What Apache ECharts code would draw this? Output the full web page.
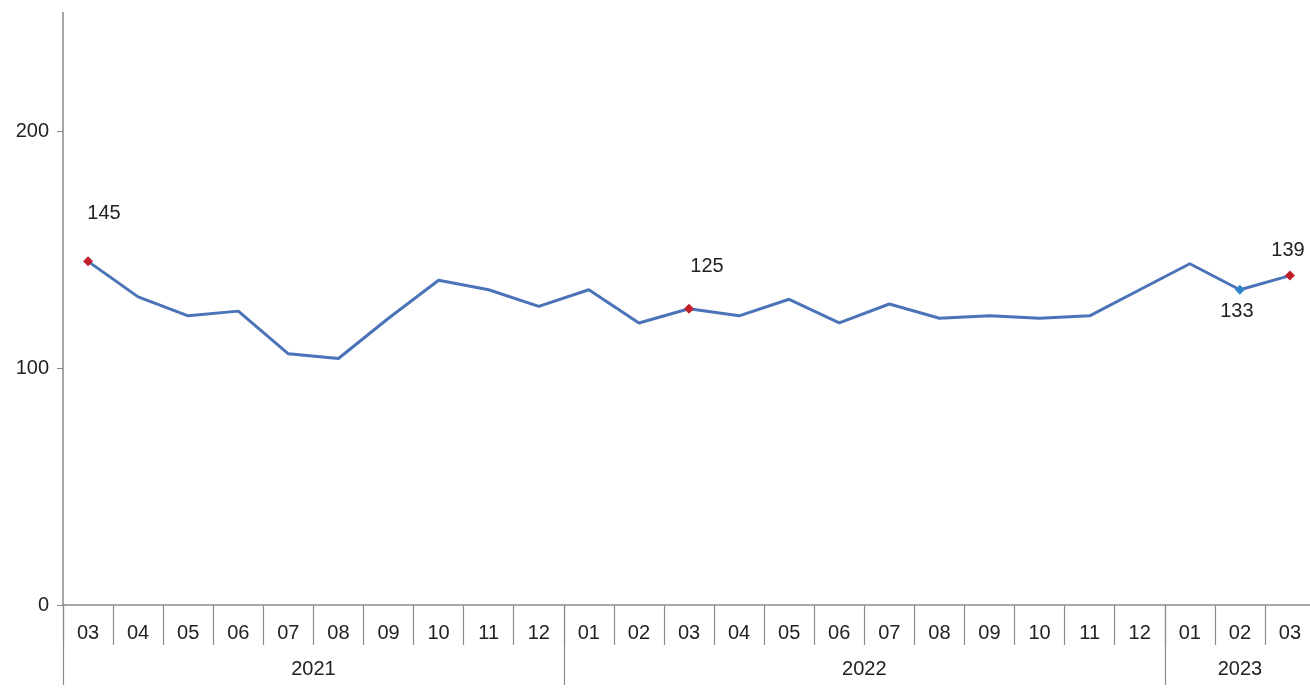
<!DOCTYPE html>
<html>
<head>
<meta charset="utf-8">
<script src="https://cdn.jsdelivr.net/npm/echarts@6/dist/echarts.min.js"></script>
<style>
html,body{margin:0;padding:0;background:#fff;}
#chart{width:1310px;height:697px;}
</style>
</head>
<body>
<div id="chart"></div>
<script>
// ---- data ----
const months = ['03','04','05','06','07','08','09','10','11','12',
                '01','02','03','04','05','06','07','08','09','10','11','12',
                '01','02','03'];
const years = ['2021','2022','2023'];
const yearStart = [0, 10, 22];   // category index where each year begins
const yearLen = [10, 12, 3];     // number of months per year
const values = [145,130,122,124,106,104,121,137,133,126,
                133,119,125,122,129,119,127,121,122,121,122,133,
                144,133,139];
const redPoints = [0, 12, 24];   // labelled red markers
const bluePoints = [23];         // labelled blue marker
const yTicks = [0, 100, 200];

// ---- styles (not data) ----
const FONT = 'Liberation Sans, Arial, sans-serif';
const FS = 20;
const LINE_COLOR = '#4a73b8';
const RED = '#c0202a';
const BLUE = '#2e86c8';
const TXT = '#222';
const labelOffsets = {0: [16, -48], 12: [18, -42], 24: [-2, -25], 23: [-3, 22]};

const seriesData = values.map((v, i) => {
  const isRed = redPoints.includes(i);
  const isBlue = bluePoints.includes(i);
  if (!isRed && !isBlue) return {value: v, symbol: 'none'};
  return {
    value: v,
    symbol: 'diamond',
    symbolSize: 10,
    itemStyle: {color: isRed ? RED : BLUE},
    label: {
      show: true,
      position: 'inside',
      offset: labelOffsets[i],
      formatter: String(v),
      color: TXT,
      fontSize: FS,
      fontFamily: FONT
    }
  };
});

const yearBounds = yearStart.concat([months.length]);
const yearCenters = yearStart.map((s, k) => s + yearLen[k] / 2);

const chart = echarts.init(document.getElementById('chart'));
chart.setOption({
  animation: false,
  backgroundColor: '#fff',
  grid: {left: 63, right: -5, top: 12.5, bottom: 92, containLabel: false, outerBoundsMode: 'none'},
  xAxis: [
    {
      type: 'category',
      data: months,
      boundaryGap: true,
      position: 'bottom',
      axisLine: {show: true, lineStyle: {color: '#8a8a8a', width: 1.5}},
      axisTick: {show: true, length: 40, lineStyle: {color: '#8a8a8a', width: 1.2}},
      axisLabel: {show: true, interval: 0, margin: 18, color: TXT, fontSize: FS, fontFamily: FONT},
      splitLine: {show: false}
    },
    {
      type: 'value',
      min: 0,
      max: months.length,
      position: 'bottom',
      axisLine: {show: false},
      axisTick: {show: true, length: 80, customValues: yearBounds, lineStyle: {color: '#8a8a8a', width: 1.2}},
      axisLabel: {
        show: true,
        customValues: yearCenters,
        margin: 54,
        color: TXT, fontSize: FS, fontFamily: FONT,
        formatter: function (v) {
          const k = yearCenters.findIndex(c => Math.abs(c - v) < 1e-6);
          return k >= 0 ? years[k] : '';
        }
      },
      splitLine: {show: false}
    }
  ],
  yAxis: {
    type: 'value',
    min: 0,
    max: 250,
    interval: 100,
    axisLine: {show: true, lineStyle: {color: '#8a8a8a', width: 1.5}},
    axisTick: {show: true, length: 6, customValues: yTicks, lineStyle: {color: '#8a8a8a'}},
    axisLabel: {show: true, customValues: yTicks, margin: 14, color: TXT, fontSize: FS, fontFamily: FONT},
    splitLine: {show: false}
  },
  series: [{
    type: 'line',
    xAxisIndex: 0,
    data: seriesData,
    showAllSymbol: true,
    lineStyle: {color: LINE_COLOR, width: 3},
    itemStyle: {color: LINE_COLOR},
    emphasis: {disabled: true},
    z: 3
  }]
});
</script>
</body>
</html>
